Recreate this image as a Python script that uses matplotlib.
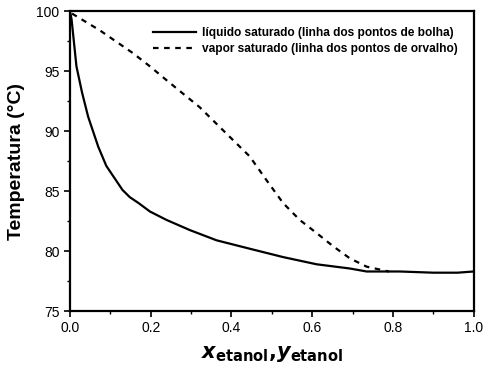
import matplotlib
matplotlib.use('Agg')
import matplotlib.pyplot as plt
from matplotlib.ticker import MultipleLocator

plt.rcParams['font.family'] = ['Liberation Sans', 'DejaVu Sans']

# liquido saturado (bubble line)
x_liq = [0.0, 0.004, 0.016, 0.03, 0.045, 0.07, 0.09, 0.11, 0.13, 0.148, 0.17,
         0.198, 0.239, 0.297, 0.363, 0.445, 0.528, 0.611, 0.693, 0.735, 0.817,
         0.9, 0.96, 1.0]
T_liq = [100.0, 99.3, 95.4, 93.2, 91.2, 88.7, 87.1, 86.1, 85.1, 84.5, 84.0,
         83.3, 82.6, 81.75, 80.9, 80.2, 79.5, 78.9, 78.55, 78.3, 78.3,
         78.2, 78.2, 78.3]

# vapor saturado (dew line)
y_vap = [0.005, 0.074, 0.156, 0.198, 0.239, 0.321, 0.404, 0.445, 0.487, 0.528,
         0.569, 0.611, 0.652, 0.693, 0.735, 0.776, 0.79]
T_vap = [99.8, 98.4, 96.5, 95.4, 94.25, 92.0, 89.25, 87.9, 85.9, 84.0,
         82.6, 81.5, 80.4, 79.4, 78.7, 78.4, 78.3]

lbl_liq = 'líquido saturado (linha dos pontos de bolha)'
lbl_vap = 'vapor saturado (linha dos pontos de orvalho)'

fig = plt.figure(figsize=(4.87, 3.85), dpi=100)
ax = fig.add_axes([0.1437, 0.192, 0.829, 0.779])

ax.plot(x_liq, T_liq, color='black', lw=1.6, ls='-', label=lbl_liq)
ax.plot(y_vap, T_vap, color='black', lw=1.6, ls=(0, (2.5, 2.5)), label=lbl_vap)

ax.set_xlim(0, 1.0)
ax.set_ylim(75, 100)
ax.xaxis.set_major_locator(MultipleLocator(0.2))
ax.xaxis.set_minor_locator(MultipleLocator(0.1))
ax.yaxis.set_major_locator(MultipleLocator(5))
ax.yaxis.set_minor_locator(MultipleLocator(2.5))
ax.xaxis.set_major_formatter(matplotlib.ticker.FormatStrFormatter('%.1f'))
ax.tick_params(which='major', direction='out', length=4, width=1.2, labelsize=10)
ax.tick_params(which='minor', direction='out', length=2.5, width=1.0)
for s in ax.spines.values():
    s.set_linewidth(1.6)

ax.set_ylabel('Temperatura (°C)', fontsize=14, fontweight='bold', labelpad=8)
ax.set_xlabel(r'$\boldsymbol{x}_{\mathbf{etanol}}\mathbf{,}\boldsymbol{y}_{\mathbf{etanol}}$',
              fontsize=15, labelpad=6)

leg = ax.legend(loc='upper right', frameon=False,
                prop={'weight': 'bold', 'size': 8.6}, handlelength=3.6,
                borderaxespad=0.9, labelspacing=0.35, handletextpad=0.5)

fig.savefig('out.png', dpi=100)
